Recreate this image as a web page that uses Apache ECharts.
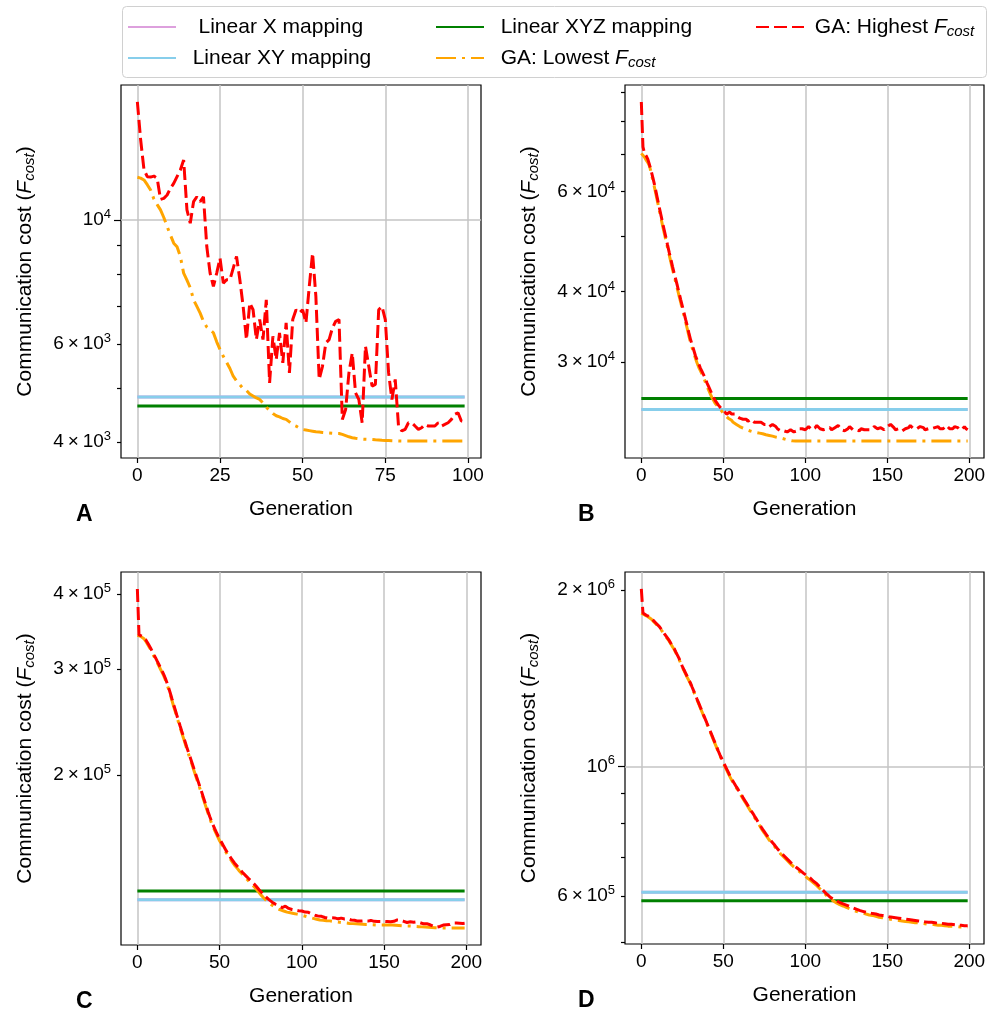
<!DOCTYPE html>
<html>
<head>
<meta charset="utf-8">
<script src="https://cdn.jsdelivr.net/npm/echarts@6/dist/echarts.min.js"></script>
<style>
  html, body { margin: 0; padding: 0; background: #fff; }
  #chart { width: 990px; height: 1009px; }
</style>
</head>
<body>
<div id="chart"></div>
<script>
// ---- data ----
// Panel A: 100 generations, raw cost
const highA = [16260,13900,12300,11950,11930,11980,11870,10880,10930,11080,
  11390,11625,11950,12280,12800,10420,9864,10780,11000,10780,
  11000,8960,8030,7600,8030,8540,7705,7815,7815,8196,
  8600,7815,7000,6105,7100,6905,6105,6630,6105,7195,
  5109,6190,5623,6275,5546,6540,5322,6630,6905,6813,
  6905,6540,7600,8720,7295,5180,5470,6020,6105,6405,
  6585,6630,4394,4578,5322,5777,4903,4770,4334,5940,
  5470,5040,5075,6905,7000,6630,5322,4770,5180,4275,
  4190,4217,4334,4334,4275,4217,4246,4304,4275,4275,
  4275,4334,4275,4304,4334,4394,4485,4516,4364,4360];
const lowA = [11920,11880,11790,11560,11310,10900,10650,10420,10100,9730,
  9400,9085,8950,8600,8030,7800,7560,7195,7000,6810,
  6580,6430,6360,6280,6050,5860,5700,5560,5420,5250,
  5150,5070,4990,4950,4880,4840,4800,4770,4700,4620,
  4560,4500,4460,4440,4410,4395,4350,4300,4275,4240,
  4215,4205,4195,4185,4175,4170,4165,4160,4155,4150,
  4148,4147,4130,4110,4090,4075,4065,4058,4052,4048,
  4046,4045,4040,4036,4032,4030,4027,4024,4022,4020,
  4019,4019,4019,4019,4019,4019,4019,4019,4019,4019,
  4019,4019,4019,4019,4019,4019,4019,4019,4019,4019];
const linA = { x: 4820, xy: 4820, xyz: 4645 };

// Panel B: 200 generations, cost in thousands
const highB_k = [86.4,72.0,70.0,69.4,68.4,66.9,65.3,63.6,61.8,59.9,
  58.0,56.2,54.5,52.8,51.3,49.8,48.3,46.9,45.6,44.3,
  43.1,42.0,40.9,39.8,38.7,37.7,36.7,35.7,34.8,33.8,
  32.9,32.2,31.5,30.8,30.3,29.8,29.3,28.9,28.5,28.1,
  27.6,27.2,26.8,26.4,26.0,25.7,25.5,25.2,25.0,24.8,
  24.6,24.5,24.3,24.4,24.5,24.3,24.2,24.3,24.1,24.0,
  23.9,24.0,23.8,23.9,23.8,23.6,23.7,23.8,23.7,23.5,
  23.6,23.5,23.4,23.5,23.4,23.3,23.2,23.3,23.1,23.2,
  23.3,23.4,23.1,22.9,22.8,22.7,22.6,22.7,22.6,22.6,
  22.7,22.8,22.7,22.6,22.6,22.7,22.9,22.8,22.9,23.0,
  22.8,22.9,23.1,23.0,22.8,22.9,23.0,23.2,23.1,22.9,
  22.8,22.8,22.9,22.9,23.0,23.0,22.8,22.8,23.0,23.1,
  23.2,23.0,22.8,22.7,22.7,22.8,22.9,23.1,23.0,22.8,
  22.7,22.8,22.8,22.7,22.9,23.0,22.8,22.7,22.8,22.9,
  22.8,22.9,23.1,23.0,22.9,22.9,23.0,22.9,22.8,22.9,
  23.1,23.2,23.3,23.2,23.0,22.8,22.8,22.9,22.8,22.7,
  22.8,22.9,22.8,23.0,23.2,23.1,22.9,22.8,22.9,23.0,
  23.1,23.2,23.0,22.8,22.8,22.9,22.8,22.9,22.8,23.0,
  23.1,23.1,22.9,22.8,22.9,23.0,23.2,23.1,22.9,22.8,
  22.9,23.1,23.2,23.0,22.8,22.7,22.9,23.1,22.9,22.8];
const lowB_k = [70.1,69.6,69.0,68.2,67.5,66.6,64.8,62.9,61.1,59.2,
  57.4,55.6,53.9,52.2,50.7,49.2,47.8,46.4,45.1,43.8,
  42.6,41.5,40.4,39.3,38.3,37.2,36.3,35.3,34.4,33.4,
  32.5,31.8,31.1,30.5,29.9,29.4,29.0,28.6,28.2,27.7,
  27.2,26.8,26.4,26.0,25.7,25.4,25.2,25.0,24.8,24.6,
  24.4,24.2,24.1,23.9,23.8,23.7,23.5,23.4,23.3,23.2,
  23.1,23.0,22.95,22.9,22.83,22.77,22.71,22.65,22.62,22.59,
  22.55,22.52,22.49,22.46,22.43,22.4,22.34,22.31,22.28,22.25,
  22.22,22.16,22.13,22.1,22.07,22.04,22.01,21.98,21.93,21.9,
  21.86,21.83,21.8,21.78,21.78,21.78,21.78,21.78,21.78,21.78,
  21.78,21.78,21.78,21.78,21.78,21.78,21.78,21.78,21.78,21.78,
  21.78,21.78,21.78,21.78,21.78,21.78,21.78,21.78,21.78,21.78,
  21.78,21.78,21.78,21.78,21.78,21.78,21.78,21.78,21.78,21.78,
  21.78,21.78,21.78,21.78,21.78,21.78,21.78,21.78,21.78,21.78,
  21.78,21.78,21.78,21.78,21.78,21.78,21.78,21.78,21.78,21.78,
  21.78,21.78,21.78,21.78,21.78,21.78,21.78,21.78,21.78,21.78,
  21.78,21.78,21.78,21.78,21.78,21.78,21.78,21.78,21.78,21.78,
  21.78,21.78,21.78,21.78,21.78,21.78,21.78,21.78,21.78,21.78,
  21.78,21.78,21.78,21.78,21.78,21.78,21.78,21.78,21.78,21.78,
  21.78,21.78,21.78,21.78,21.78,21.78,21.78,21.78,21.78,21.78];
const linB_k = { x: 24.76, xy: 24.76, xyz: 25.9 };

// Panel C: 200 generations, cost in thousands
const highC_k = [407.8,342.0,341.2,340.3,338.8,336.0,332.6,329.0,325.4,321.2,
  317.3,313.6,309.6,305.8,301.9,298.1,294.2,289.8,284.8,279.4,
  273.9,268.0,262.3,257.0,251.5,246.4,241.4,236.6,232.1,227.4,
  222.8,218.6,214.5,210.5,206.6,202.6,198.8,195.1,191.4,187.8,
  184.2,180.7,177.3,173.9,170.7,167.9,165.3,163.0,160.8,158.7,
  156.7,155.0,153.2,151.5,149.8,148.3,146.8,145.5,144.2,142.9,
  141.9,140.8,139.7,138.9,137.8,136.8,136.0,135.2,134.3,133.5,
  132.7,131.9,131.0,130.0,129.0,128.1,127.3,126.4,125.6,124.9,
  124.2,123.6,123.0,122.5,122.0,121.6,121.2,120.9,120.5,120.9,
  121.1,120.6,120.1,119.8,119.6,119.4,119.3,119.1,119.0,119.0,
  118.9,118.7,118.4,118.2,118.3,117.9,117.6,117.4,117.0,116.8,
  116.6,116.4,116.5,116.2,116.0,115.9,115.7,115.6,115.9,116.1,
  115.8,115.5,115.4,115.6,115.7,115.5,115.3,115.6,115.4,115.1,
  114.9,115.0,114.8,114.6,114.4,114.2,114.4,114.7,114.5,114.3,
  114.4,114.6,114.7,114.6,114.3,114.1,114.2,114.3,114.2,114.1,
  114.3,114.2,114.2,114.3,114.1,114.0,114.3,114.6,114.9,115.0,
  114.8,114.7,114.3,114.0,113.8,113.9,114.1,114.0,113.9,114.0,
  114.1,113.9,113.7,113.4,113.2,113.1,113.3,113.1,112.8,112.5,
  112.2,111.9,111.8,111.9,112.1,112.4,112.7,113.0,112.8,112.6,
  112.9,113.3,113.6,113.5,113.6,113.7,113.5,113.6,113.4,113.5];
const lowC_k = [341.4,341.0,340.1,338.8,337.1,334.1,330.7,327.3,323.6,319.5,
  315.5,311.9,307.9,304.1,300.2,296.4,292.7,288.2,283.1,277.8,
  272.2,266.4,260.6,255.4,249.9,244.9,239.9,235.1,230.6,226.0,
  221.4,217.3,213.1,209.2,205.2,201.3,197.5,193.8,190.1,186.5,
  183.0,179.5,176.1,172.8,169.5,166.7,164.2,161.9,159.7,157.6,
  155.6,153.9,152.1,150.4,148.7,147.2,145.7,144.4,143.1,141.8,
  140.8,139.7,138.6,137.8,136.7,135.7,134.8,134.0,133.1,132.3,
  131.4,130.6,129.6,128.6,127.6,126.6,125.9,124.9,124.1,123.3,
  122.7,122.1,121.6,121.0,120.5,120.1,119.8,119.4,119.2,118.9,
  118.5,118.4,118.2,118.1,117.9,117.8,117.6,117.5,117.3,117.2,
  117.0,116.8,116.6,116.4,116.2,116.0,115.8,115.6,115.4,115.2,
  114.9,114.9,114.8,114.8,114.7,114.6,114.5,114.5,114.4,114.3,
  114.2,114.1,114.0,113.9,113.8,113.7,113.7,113.6,113.5,113.4,
  113.4,113.3,113.3,113.2,113.2,113.1,113.1,113.0,113.0,112.9,
  112.9,112.9,112.8,112.8,112.8,112.7,112.7,112.7,112.7,112.7,
  112.7,112.7,112.7,112.7,112.7,112.7,112.6,112.6,112.6,112.5,
  112.5,112.4,112.4,112.3,112.3,112.3,112.2,112.2,112.2,112.1,
  112.1,112.0,111.9,111.9,111.8,111.8,111.7,111.7,111.6,111.6,
  111.6,111.5,111.5,111.5,111.4,111.4,111.4,111.4,111.4,111.4,
  111.4,111.4,111.4,111.4,111.4,111.4,111.4,111.4,111.4,111.4];
const linC_k = { x: 124.1, xy: 124.1, xyz: 128.4 };

// Panel D: 200 generations, cost in thousands
const highD_k = [2010,1828,1819,1812,1806,1801,1791,1779,1767,1756,
  1744,1733,1717,1702,1686,1671,1656,1641,1623,1606,
  1590,1569,1549,1529,1505,1482,1462,1443,1424,1405,
  1387,1365,1344,1323,1302,1282,1262,1243,1223,1204,
  1185,1167,1149,1131,1113,1096,1079,1061,1045,1031,
  1016,1003,990,977,964,952,942,932,922,913,
  903,894,884,875,866,857,848,839,831,822,
  814,805,797,788,780,773,766,759,752,746,
  741,735,729,723,718,712,708,703,698,694,
  689,685,680,677,673,670,666,663,659,656,
  653,650,646,644,640,636,633,630,626,621,
  617,613,609,605,601,598,596,593,591,589,
  587,585,583,582,580,579,578,576,574,573,
  572,570,568,567,566,565,564,563,562,562,
  561,560,560,559,558,557,557,556,556,555,
  554,553,553,552,552,551,551,550,549,549,
  548,548,547,547,546,546,545,545,544,544,
  543,543,542,542,542,541,541,541,540,540,
  540,539,539,539,538,538,538,537,537,537,
  536,536,536,535,535,535,535,534,534,534];
const lowD_k = [1827,1822,1815,1807,1802,1798,1786,1774,1762,1750,
  1739,1728,1712,1697,1681,1666,1651,1636,1618,1601,
  1585,1564,1544,1524,1500,1477,1457,1438,1419,1401,
  1383,1361,1340,1319,1298,1278,1258,1239,1219,1200,
  1181,1163,1145,1127,1109,1092,1075,1057,1041,1027,
  1012,999,986,973,960,948,938,928,918,909,
  899,890,880,871,862,853,844,835,827,818,
  810,801,793,784,776,769,762,755,748,742,
  737,731,725,719,714,708,704,699,694,690,
  685,681,676,673,669,666,662,659,655,652,
  649,645,642,639,635,632,629,625,621,617,
  613,609,605,601,597,594,591,589,587,584,
  582,580,579,577,576,574,573,571,570,568,
  567,565,564,563,562,561,560,559,558,557,
  556,556,555,554,553,552,551,551,550,549,
  549,548,548,547,547,546,546,545,545,544,
  544,543,543,542,542,541,541,540,540,540,
  539,539,538,538,538,537,537,537,536,536,
  536,535,535,535,534,534,534,533,533,533,
  533,532,532,532,532,531,531,531,531,531];
const linD_k = { x: 609, xy: 609, xyz: 589 };

// ticks
const xTicksA = [0, 25, 50, 75, 100];
const xTicks200 = [0, 50, 100, 150, 200];
const yLabelsA = [4000, 6000, 10000];
const yMinorA = [4000, 5000, 6000, 7000, 8000, 9000];
const yMajorA = [10000];
const yLabelsB = [30000, 40000, 60000];
const yMinorB = [30000, 40000, 50000, 60000, 70000, 80000, 90000];
const yLabelsC = [200000, 300000, 400000];
const yMinorC = [200000, 300000, 400000];
const yLabelsD = [600000, 1000000, 2000000];
const yMinorD = [500000, 600000, 700000, 800000, 900000, 2000000];
const yMajorD = [1000000];

// ---- helpers ----
const FONT = "'Liberation Sans', Arial, sans-serif";
const k = (arr) => arr.map((v) => v * 1000);
const kObj = (o) => ({ x: o.x * 1000, xy: o.xy * 1000, xyz: o.xyz * 1000 });

const panels = [
  { letter: "A", left: 121, top: 85, width: 360, height: 373, high: highA, low: lowA, lin: linA,
    xTicks: xTicksA, yLabels: yLabelsA, yMinor: yMinorA, yMajor: yMajorA },
  { letter: "B", left: 625, top: 85, width: 359, height: 373, high: k(highB_k), low: k(lowB_k), lin: kObj(linB_k),
    xTicks: xTicks200, yLabels: yLabelsB, yMinor: yMinorB, yMajor: [] },
  { letter: "C", left: 121, top: 572, width: 360, height: 373, high: k(highC_k), low: k(lowC_k), lin: kObj(linC_k),
    xTicks: xTicks200, yLabels: yLabelsC, yMinor: yMinorC, yMajor: [] },
  { letter: "D", left: 625, top: 572, width: 359, height: 372, high: k(highD_k), low: k(lowD_k), lin: kObj(linD_k),
    xTicks: xTicks200, yLabels: yLabelsD, yMinor: yMinorD, yMajor: yMajorD },
];

const lineDefs = [
  { key: "x", name: "Linear X mapping", color: "#dda0dd", type: "solid" },
  { key: "xy", name: "Linear XY mapping", color: "#87ceeb", type: "solid" },
  { key: "xyz", name: "Linear XYZ mapping", color: "#008000", type: "solid" },
  { key: "low", name: "GA: Lowest Fcost", color: "#ffa500", type: [20, 6, 3, 6] },
  { key: "high", name: "GA: Highest Fcost", color: "#ff0000", type: [13, 5] },
];

const legendText = {
  "Linear X mapping": "   Linear X mapping",
  "Linear XY mapping": "  Linear XY mapping",
  "Linear XYZ mapping": "  Linear XYZ mapping",
  "GA: Lowest Fcost": "  GA: Lowest {it|F}{sub|cost}",
  "GA: Highest Fcost": " GA: Highest {it|F}{sub|cost}",
};

// matplotlib-like 5% margins on a log axis
function logExtent(arrays) {
  let lo = Infinity, hi = -Infinity;
  arrays.forEach((a) => a.forEach((v) => {
    const l = Math.log10(v);
    if (l < lo) lo = l;
    if (l > hi) hi = l;
  }));
  const pad = 0.05 * (hi - lo);
  return [Math.pow(10, lo - pad), Math.pow(10, hi + pad)];
}

function sciLabel(v) {
  const e = Math.floor(Math.log10(v) + 1e-9);
  const m = Math.round(v / Math.pow(10, e));
  return m === 1 ? "{b|10}{s|" + e + "}" : "{b|" + m + "\u2009×\u200910}{s|" + e + "}";
}

const tickStyle = { color: "#000", width: 1.2 };
const gridLine = { color: "#c4c4c4", width: 1.5 };
const labelRich = {
  b: { fontSize: 19, fontFamily: FONT, color: "#000", lineHeight: 24 },
  s: { fontSize: 13, fontFamily: FONT, color: "#000", lineHeight: 13, verticalAlign: "top" },
};
const subRich = (size) => ({
  it: { fontSize: size, fontFamily: FONT, fontStyle: "italic", color: "#000", lineHeight: 24 },
  sub: { fontSize: Math.round(size * 0.7), fontFamily: FONT, fontStyle: "italic", color: "#000",
    lineHeight: 14, verticalAlign: "bottom" },
});

const grid = [], xAxis = [], yAxis = [], series = [], graphic = [];

panels.forEach((p, i) => {
  const n = p.low.length;
  const [ymin, ymax] = logExtent([p.low, p.high]);

  grid.push({ left: p.left, top: p.top, width: p.width, height: p.height,
    show: true, borderColor: "#000", borderWidth: 1.2, backgroundColor: "transparent" });

  xAxis.push({
    type: "value", gridIndex: i, position: "bottom", min: -0.05 * (n - 1), max: 1.05 * (n - 1),
    name: "Generation", nameLocation: "middle", nameGap: 39,
    nameTextStyle: { fontSize: 21, fontFamily: FONT, color: "#000", lineHeight: 24 },
    axisLine: { show: false, onZero: false },
    axisTick: { show: true, length: 5, lineStyle: tickStyle, customValues: p.xTicks },
    axisLabel: { customValues: p.xTicks, fontSize: 19, fontFamily: FONT, color: "#000", margin: 8 },
    splitLine: { show: true, lineStyle: gridLine },
  });

  // labels + minor ticks
  yAxis.push({
    type: "log", logBase: 10, gridIndex: i, position: "left", min: ymin, max: ymax,
    name: "Communication cost ({it|F}{sub|cost})", nameLocation: "middle", nameRotate: 90, nameGap: 84,
    nameTextStyle: { fontSize: 21, fontFamily: FONT, color: "#000", lineHeight: 24, rich: subRich(21) },
    axisLine: { show: false, onZero: false },
    axisTick: { show: true, length: 4, lineStyle: tickStyle, customValues: p.yMinor },
    axisLabel: { customValues: p.yLabels, formatter: sciLabel, rich: labelRich, margin: 10 },
    splitLine: { show: false },
  });
  // major ticks + horizontal grid
  yAxis.push({
    type: "log", logBase: 10, gridIndex: i, position: "left", min: ymin, max: ymax,
    axisLine: { show: false, onZero: false },
    axisTick: { show: true, length: 7, lineStyle: tickStyle, customValues: p.yMajor },
    axisLabel: { show: false },
    splitLine: { show: true, lineStyle: gridLine },
  });

  lineDefs.forEach((d) => {
    let data;
    if (d.key === "low" || d.key === "high") {
      data = p[d.key].map((v, g) => [g, v]);
    } else {
      data = [[0, p.lin[d.key]], [n - 1, p.lin[d.key]]];
    }
    series.push({
      name: d.name, type: "line", xAxisIndex: i, yAxisIndex: 2 * i,
      data, symbol: "none", animation: false,
      lineStyle: { color: d.color, width: 3, type: d.type },
      itemStyle: { color: d.color },
    });
  });

  graphic.push({
    type: "text", left: (p.left < 300 ? 76 : 578), top: p.top + p.height + 45,
    style: { text: p.letter, font: "bold 23px " + FONT, fill: "#000" },
  });
});

graphic.push({
  type: "rect", left: 122, top: 6, z: -1,
  shape: { width: 864, height: 71, r: 4 },
  style: { fill: "#fff", stroke: "#d0d0d0", lineWidth: 1 },
});

const legendBase = {
  orient: "vertical", top: 15, padding: 0, itemWidth: 48, itemHeight: 14, itemGap: 7,
  selectedMode: false,
  itemStyle: { opacity: 0 },
  formatter: (name) => legendText[name],
  textStyle: { fontSize: 21, fontFamily: FONT, color: "#000", lineHeight: 24, rich: subRich(21) },
};

const option = {
  animation: false,
  backgroundColor: "#fff",
  legend: [
    Object.assign({}, legendBase, { left: 127, data: ["Linear X mapping", "Linear XY mapping"] }),
    Object.assign({}, legendBase, { left: 435, data: ["Linear XYZ mapping", "GA: Lowest Fcost"] }),
    Object.assign({}, legendBase, { left: 755, data: ["GA: Highest Fcost"] }),
  ],
  grid, xAxis, yAxis, series, graphic,
};

const chart = echarts.init(document.getElementById("chart"));
chart.setOption(option);
</script>
</body>
</html>
